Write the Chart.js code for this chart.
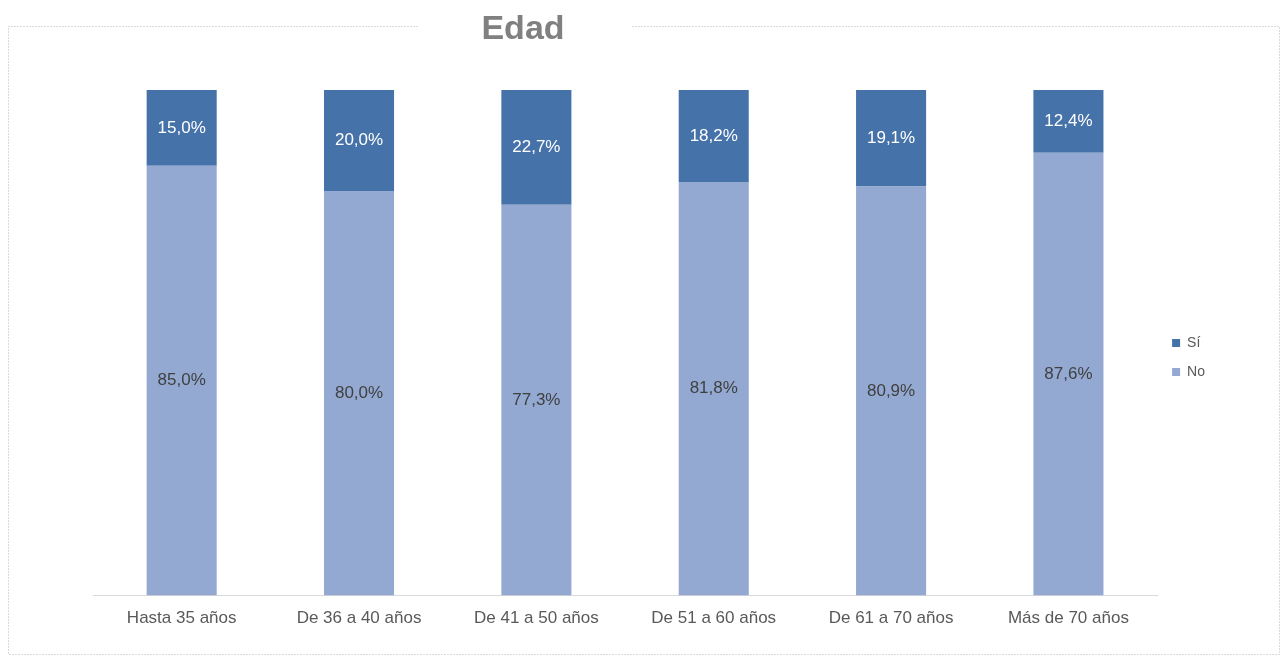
<!DOCTYPE html>
<html>
<head>
<meta charset="utf-8">
<title>Edad</title>
<script src="https://cdn.jsdelivr.net/npm/chart.js@4"></script>
<style>
  html, body { margin: 0; padding: 0; background: #fff; }
  #wrap { width: 1283px; height: 657px; position: relative; }
</style>
</head>
<body>
<div id="wrap"><canvas id="edadChart"></canvas></div>
<script>
const categories = ['Hasta 35 años', 'De 36 a 40 años', 'De 41 a 50 años', 'De 51 a 60 años', 'De 61 a 70 años', 'Más de 70 años'];
const siValues = [15.0, 20.0, 22.7, 18.2, 19.1, 12.4];
const noValues = [85.0, 80.0, 77.3, 81.8, 80.9, 87.6];
const chartTitle = 'Edad';

const FONT = '"Liberation Sans", Arial, sans-serif';

// dotted frame around the chart, broken at the top by the title box
const framePlugin = {
    id: 'frame',
    beforeDraw(chart) {
        const ctx = chart.ctx;
        ctx.save();
        ctx.strokeStyle = '#b4b4b4';
        ctx.lineWidth = 1;
        ctx.setLineDash([1, 2]);
        ctx.strokeRect(8.5, 26.5, 1271, 628);
        ctx.setLineDash([]);
        ctx.fillStyle = '#ffffff';
        ctx.fillRect(418, 8, 214, 40);
        ctx.fillStyle = '#808080';
        ctx.font = 'bold 34px ' + FONT;
        ctx.textAlign = 'center';
        ctx.textBaseline = 'alphabetic';
        ctx.fillText(chartTitle, 523, 39);
        ctx.restore();
    }
};

// percentage labels in the middle of each bar segment
const valueLabels = {
    id: 'valueLabels',
    afterDatasetsDraw(chart) {
        const ctx = chart.ctx;
        ctx.save();
        ctx.font = '17px ' + FONT;
        ctx.textAlign = 'center';
        ctx.textBaseline = 'middle';
        chart.data.datasets.forEach((ds, i) => {
            const meta = chart.getDatasetMeta(i);
            ctx.fillStyle = ds.labelColor;
            meta.data.forEach((bar, j) => {
                const {x, y, base} = bar.getProps(['x', 'y', 'base'], true);
                const txt = ds.data[j].toFixed(1).replace('.', ',') + '%';
                ctx.fillText(txt, x, (y + base) / 2);
            });
        });
        ctx.restore();
    }
};

const ctx = document.getElementById('edadChart').getContext('2d');
new Chart(ctx, {
    type: 'bar',
    data: {
        labels: categories,
        datasets: [
            { label: 'No', data: noValues, backgroundColor: '#93a9d2', labelColor: '#404040',
              barPercentage: 0.395, categoryPercentage: 1 },
            { label: 'Sí', data: siValues, backgroundColor: '#4672aa', labelColor: '#ffffff',
              barPercentage: 0.395, categoryPercentage: 1 }
        ]
    },
    options: {
        responsive: true,
        maintainAspectRatio: false,
        animation: false,
        layout: { padding: { top: 90, left: 93, right: 68, bottom: 15 } },
        scales: {
            x: {
                stacked: true,
                grid: { display: false, drawTicks: false },
                border: { display: true, color: '#d9d9d9', width: 1 },
                ticks: { color: '#595959', font: { family: FONT, size: 17 }, padding: 13, maxRotation: 0 }
            },
            y: {
                stacked: true,
                display: false,
                min: 0,
                max: 100
            }
        },
        plugins: {
            title: { display: false },
            tooltip: { enabled: false },
            legend: {
                position: 'right',
                fullSize: false,
                reverse: true,
                // empty title used only as a spacer above the items
                title: { display: true, text: '', padding: { top: 28, bottom: 0 }, font: { size: 1 } },
                labels: {
                    boxWidth: 8,
                    boxHeight: 8,
                    padding: 15,
                    color: '#595959',
                    font: { family: FONT, size: 14 }
                }
            }
        }
    },
    plugins: [framePlugin, valueLabels]
});
</script>
</body>
</html>
